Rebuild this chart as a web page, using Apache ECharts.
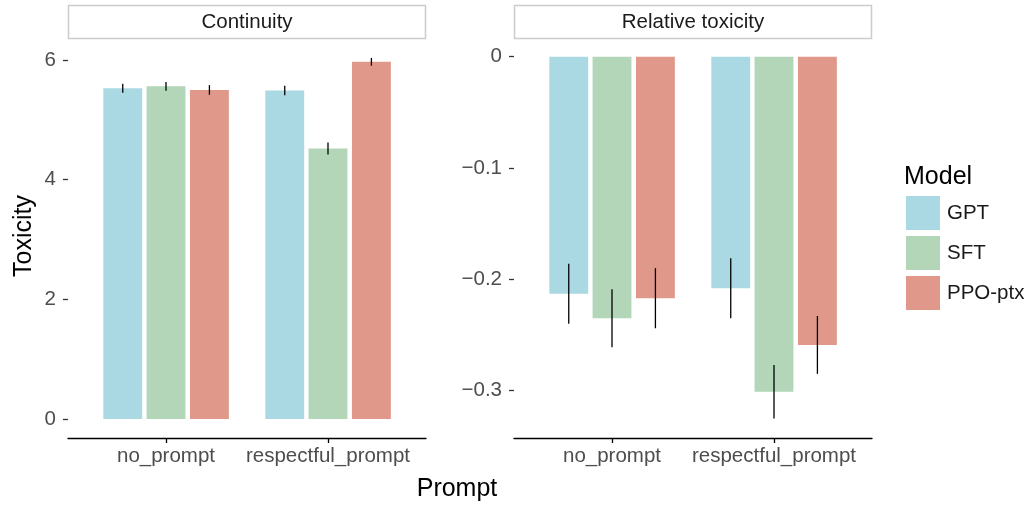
<!DOCTYPE html>
<html>
<head>
<meta charset="utf-8">
<script src="https://cdn.jsdelivr.net/npm/echarts@6/dist/echarts.min.js"></script>
<style>
  html, body { margin: 0; padding: 0; background: #fff; }
  #chart { width: 1029px; height: 505px; }
</style>
</head>
<body>
<div id="chart"></div>
<script>
const prompts = ['no_prompt', 'respectful_prompt'];
const models = ['GPT', 'SFT', 'PPO-ptx'];
const colors = ['#aad9e3', '#b2d6b7', '#df988a'];

// Continuity panel: mean toxicity and half-length of error bars
const contGPT = [5.53, 5.49];
const contSFT = [5.56, 4.52];
const contPPO = [5.50, 5.97];
const contErrGPT = [0.075, 0.08];
const contErrSFT = [0.075, 0.10];
const contErrPPO = [0.08, 0.065];

// Relative toxicity panel
const relGPT = [-0.213, -0.208];
const relSFT = [-0.235, -0.301];
const relPPO = [-0.217, -0.259];
const relErrGPT = [0.027, 0.027];
const relErrSFT = [0.026, 0.024];
const relErrPPO = [0.027, 0.026];

const contTicks = [0, 2, 4, 6];
const relTicks = [0, -0.1, -0.2, -0.3];

const font = 'Liberation Sans, Arial, sans-serif';
const offsets = [-0.267, 0, 0.268];
const halfW = 0.12;

function barItem(k) {
  return function (params, api) {
    const x = api.value(0) + offsets[k];
    const p1 = api.coord([x - halfW, api.value(1)]);
    const p2 = api.coord([x + halfW, 0]);
    return {
      type: 'rect',
      shape: { x: p1[0], y: Math.min(p1[1], p2[1]), width: p2[0] - p1[0], height: Math.abs(p2[1] - p1[1]) },
      style: { fill: colors[k] }
    };
  };
}

function errItem(k) {
  return function (params, api) {
    const x = api.value(0) + offsets[k];
    const m = api.value(1), e = api.value(2);
    const a = api.coord([x, m - e]);
    const b = api.coord([x, m + e]);
    return {
      type: 'line',
      shape: { x1: a[0], y1: a[1], x2: b[0], y2: b[1] },
      style: { stroke: '#000', lineWidth: 1.3 }
    };
  };
}

function pairs(vals, errs) {
  return vals.map((v, i) => [i, v, errs[i]]);
}

const contVals = [contGPT, contSFT, contPPO];
const contErrs = [contErrGPT, contErrSFT, contErrPPO];
const relVals = [relGPT, relSFT, relPPO];
const relErrs = [relErrGPT, relErrSFT, relErrPPO];

const series = [];
[0, 1].forEach(g => {
  const vals = g === 0 ? contVals : relVals;
  const errs = g === 0 ? contErrs : relErrs;
  models.forEach((m, k) => {
    series.push({
      type: 'custom', name: m, xAxisIndex: g, yAxisIndex: g,
      itemStyle: { color: colors[k] },
      renderItem: barItem(k), data: pairs(vals[k], errs[k]), silent: true
    });
  });
  models.forEach((m, k) => {
    series.push({
      type: 'custom', name: 'err' + g + k, xAxisIndex: g, yAxisIndex: g,
      renderItem: errItem(k), data: pairs(vals[k], errs[k]), silent: true, z: 3
    });
  });
});

function xAxis(idx) {
  return {
    type: 'value', gridIndex: idx, min: -0.605, max: 1.605,
    axisLine: { show: true, onZero: false, lineStyle: { color: '#000', width: 1.3 } },
    axisTick: { show: true, length: 5, customValues: [0, 1], lineStyle: { color: '#000', width: 1.3 } },
    axisLabel: { customValues: [0, 1], formatter: v => prompts[v], fontSize: 20.5, color: '#4d4d4d', fontFamily: font, margin: 8 },
    splitLine: { show: false }
  };
}

function yAxis(idx, min, max, ticks, fmt) {
  return {
    type: 'value', gridIndex: idx, min: min, max: max,
    axisLine: { show: false, onZero: false },
    axisTick: { show: true, length: 5, customValues: ticks, lineStyle: { color: '#333', width: 1.3 } },
    axisLabel: { customValues: ticks, formatter: fmt, fontSize: 20.5, color: '#4d4d4d', fontFamily: font, margin: 12 },
    splitLine: { show: false }
  };
}

const chart = echarts.init(document.getElementById('chart'));
chart.setOption({
  animation: false,
  backgroundColor: '#fff',
  grid: [
    { left: 68, width: 358, top: 40, bottom: 67 },
    { left: 514, width: 358, top: 40, bottom: 67 }
  ],
  xAxis: [xAxis(0), xAxis(1)],
  yAxis: [
    yAxis(0, -0.318, 6.335, contTicks, v => String(v)),
    yAxis(1, -0.3426, 0.015, relTicks, v => v === 0 ? '0' : v.toFixed(1).replace('-', '\u2212'))
  ],
  legend: {
    data: models, orient: 'vertical', left: 906, top: 196, padding: 0,
    itemWidth: 34, itemHeight: 34, itemGap: 6, icon: 'rect', selectedMode: false,
    textStyle: { fontSize: 20.5, color: '#1a1a1a', fontFamily: font, padding: [0, 0, 0, 2] }
  },
  graphic: [
    { type: 'rect', shape: { x: 68.5, y: 5.5, width: 357, height: 33 }, style: { fill: '#fff', stroke: '#cccccc', lineWidth: 1.5 } },
    { type: 'text', x: 247, y: 22, style: { text: 'Continuity', font: '20.5px ' + font, fill: '#1a1a1a', textAlign: 'center', textVerticalAlign: 'middle' } },
    { type: 'rect', shape: { x: 514.5, y: 5.5, width: 357, height: 33 }, style: { fill: '#fff', stroke: '#cccccc', lineWidth: 1.5 } },
    { type: 'text', x: 693, y: 22, style: { text: 'Relative toxicity', font: '20.5px ' + font, fill: '#1a1a1a', textAlign: 'center', textVerticalAlign: 'middle' } },
    { type: 'text', x: 24, y: 236, rotation: Math.PI / 2, style: { text: 'Toxicity', font: '25px ' + font, fill: '#000', textAlign: 'center', textVerticalAlign: 'middle' } },
    { type: 'text', x: 457, y: 489, style: { text: 'Prompt', font: '25px ' + font, fill: '#000', textAlign: 'center', textVerticalAlign: 'middle' } },
    { type: 'text', x: 904, y: 177, style: { text: 'Model', font: '25px ' + font, fill: '#000', textAlign: 'left', textVerticalAlign: 'middle' } }
  ],
  series: series
});
</script>
</body>
</html>
